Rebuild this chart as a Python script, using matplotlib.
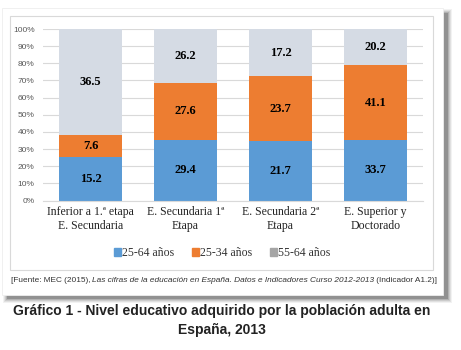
import matplotlib
matplotlib.use("Agg")
import matplotlib.pyplot as plt
from matplotlib.patches import Rectangle
import numpy as np

categories = ["Inferior a 1.ª etapa\nE. Secundaria", "E. Secundaria 1ª\nEtapa",
              "E. Secundaria 2ª\nEtapa", "E. Superior y\nDoctorado"]
series_names = ["25-64 años", "25-34 años", "55-64 años"]
v_2564 = [15.2, 29.4, 21.7, 33.7]
v_2534 = [7.6, 27.6, 23.7, 41.1]
v_5564 = [36.5, 26.2, 17.2, 20.2]
yticks = [0, 10, 20, 30, 40, 50, 60, 70, 80, 90, 100]

colors = ["#5B9BD5", "#ED7D31", "#D5DBE4"]
legend_colors = ["#5B9BD5", "#ED7D31", "#A5A5A5"]

W, H = 461, 350
fig = plt.figure(figsize=(W / 100, H / 100), dpi=100)
fig.patch.set_facecolor("white")

def px(x0, y0, x1, y1):
    return (x0 / W, 1 - y1 / H, (x1 - x0) / W, (y1 - y0) / H)

# shadow
for i, a in enumerate([0.05, 0.07, 0.09, 0.12, 0.18]):
    d = 5 - i
    x, y, w, h = px(2 + 6 - d, 8 + 6 - d, 443 + 4 + d, 295 + 3 + d)
    fig.patches.append(Rectangle((x, y), w, h, transform=fig.transFigure,
                                 facecolor="black", alpha=a, edgecolor="none", zorder=0))
x, y, w, h = px(2, 8, 443, 295)
fig.patches.append(Rectangle((x, y), w, h, transform=fig.transFigure,
                             facecolor="white", edgecolor="#eeeeee", lw=0.6, zorder=1))
x, y, w, h = px(10, 16, 433, 270)
fig.patches.append(Rectangle((x, y), w, h, transform=fig.transFigure,
                             facecolor="white", edgecolor="#d9d9d9", lw=0.8, zorder=2))

ax = fig.add_axes(px(43, 29, 423, 200.5))
ax.set_zorder(3)
ax.patch.set_alpha(0)

data = np.array([v_2564, v_2534, v_5564], dtype=float)
pct = data / data.sum(axis=0) * 100
xpos = np.arange(len(categories))
bottom = np.zeros(len(categories))
for i in range(3):
    ax.bar(xpos, pct[i], 0.66, bottom=bottom, color=colors[i], label=series_names[i], zorder=2)
    for j in range(len(categories)):
        ax.text(xpos[j], bottom[j] + pct[i][j] / 2, f"{data[i][j]:.1f}", ha="center", va="center",
                fontsize=9, fontweight="bold", family="Liberation Serif", color="black", zorder=3)
    bottom += pct[i]

ax.set_xlim(-0.5, 3.5)
ax.set_ylim(0, 100)
ax.set_yticks(yticks)
ax.set_yticklabels([f"{t}%" for t in yticks], fontsize=6, color="#595959", family="Liberation Sans")
ax.yaxis.grid(True, color="#d9d9d9", lw=0.8, zorder=0)
ax.set_axisbelow(True)
ax.set_xticks(xpos)
ax.set_xticklabels(categories, fontsize=8.5, family="Liberation Serif", color="#222222", linespacing=1.2)
ax.tick_params(axis="both", length=0, pad=4)
ax.tick_params(axis="y", pad=6)
for s in ["top", "right", "left"]:
    ax.spines[s].set_visible(False)
ax.spines["bottom"].set_color("#d9d9d9")
ax.spines["bottom"].set_linewidth(0.8)

leg = fig.legend(loc="center", bbox_to_anchor=(222 / W, 1 - 253 / H), ncol=3, frameon=False,
                 prop={"family": "Liberation Serif", "size": 8.5}, handlelength=0.6, handleheight=0.6,
                 handletextpad=0.1, columnspacing=1.5)
for hnd, c in zip(leg.legend_handles, legend_colors):
    hnd.set_facecolor(c)
    hnd.set_edgecolor(c)
for t in leg.get_texts():
    t.set_color("#333333")

# source line with mixed styles
pieces = [("[Fuente: MEC (2015), ", "normal"),
          ("Las cifras de la educación en España. Datos e Indicadores Curso 2012-2013", "italic"),
          (" (Indicador A1.2)]", "normal")]
fig.canvas.draw()
r = fig.canvas.get_renderer()
xcur = 10.5 / W
for txt, st in pieces:
    t = fig.text(xcur, 1 - 281 / H, txt, fontsize=5.95, style=st, family="Liberation Sans",
                 color="#333333", va="center", ha="left", zorder=5)
    bb = t.get_window_extent(renderer=r)
    xcur = bb.x1 / W

fig.text(222 / W, 1 - 311 / H, "Gráfico 1 - Nivel educativo adquirido por la población adulta en",
         fontsize=10, fontweight="bold", family="Liberation Sans", color="#222222", ha="center", va="center")
fig.text(222 / W, 1 - 330 / H, "España, 2013",
         fontsize=10, fontweight="bold", family="Liberation Sans", color="#222222", ha="center", va="center")

fig.savefig("out.png", dpi=100, facecolor="white")
